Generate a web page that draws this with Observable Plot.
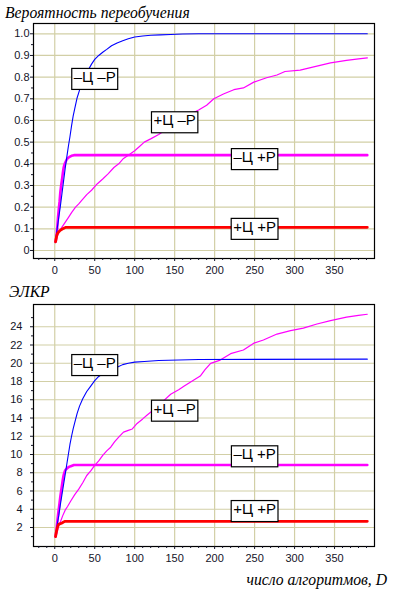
<!DOCTYPE html>
<html><head><meta charset="utf-8">
<script src="https://cdn.jsdelivr.net/npm/d3@7"></script>
<script src="https://cdn.jsdelivr.net/npm/@observablehq/plot@0.6"></script>
<style>
body{margin:0;background:#fff;}
#root{position:relative;width:396px;height:592px;overflow:hidden;background:#fff;}
.t{position:absolute;z-index:2;font-family:"Liberation Serif",serif;font-style:italic;font-size:15.7px;line-height:15px;color:#000;white-space:nowrap;}
.p{position:absolute;left:0;z-index:1;}
</style></head><body>
<div id="root">
 <div class="t" style="left:5px;top:5px">Вероятность переобучения</div>
 <div class="p" id="c1" style="top:18px"></div>
 <div class="t" style="left:9px;top:284px">ЭЛКР</div>
 <div class="p" id="c2" style="top:298px"></div>
 <div class="t" style="right:9px;top:572px">число алгоритмов, D</div>
</div>
<script>
// ---- data ----
const xTickLabels = [0, 50, 100, 150, 200, 250, 300, 350];
const yTopTicks = [0, 0.1, 0.2, 0.3, 0.4, 0.5, 0.6, 0.7, 0.8, 0.9, 1.0];
const yBotTicks = [2, 4, 6, 8, 10, 12, 14, 16, 18, 20, 22, 24];
const seriesNames = ["–Ц –Р", "+Ц –Р", "–Ц +Р", "+Ц +Р"];

// top: probability of overfitting
const blueTopD = [1,3,5,7,9,11,13,15,17,19,21,23,25,28,31,35,40,46,50,55,60,65,71,78,85,92,100,110,120,132,145,160,180,391];
const blueTopV = [0.045,0.10,0.152,0.205,0.262,0.32,0.378,0.43,0.48,0.525,0.575,0.62,0.655,0.705,0.74,0.78,0.82,0.86,0.882,0.90,0.915,0.928,0.945,0.958,0.968,0.977,0.985,0.99,0.993,0.995,0.997,0.999,1.0,1.0];
const magThinTopD = [1,3,6,9,13,17,21,26,30,34,40,46,53,60,67,74,80,86,92,100,106,112,120,130,140,150,160,170,180,190,199,211,224,236,249,265,278,288,307,324,345,365,380,391];
const magThinTopV = [0.04,0.065,0.09,0.108,0.13,0.152,0.175,0.20,0.215,0.232,0.258,0.278,0.307,0.33,0.355,0.383,0.40,0.425,0.44,0.46,0.48,0.50,0.515,0.535,0.56,0.585,0.61,0.63,0.648,0.67,0.70,0.722,0.742,0.75,0.777,0.797,0.81,0.826,0.832,0.847,0.866,0.877,0.884,0.889];
const magThickTopD = [1,2,3,4,5,6,7,8,9,10,11,12,13,15,17,19,21,24,391];
const magThickTopV = [0.04,0.06,0.10,0.15,0.19,0.225,0.27,0.30,0.325,0.355,0.38,0.395,0.405,0.42,0.428,0.433,0.437,0.44,0.44];
const redTopD = [1,2,3,4,5,6,8,10,12,14,391];
const redTopV = [0.04,0.06,0.075,0.082,0.086,0.09,0.096,0.1,0.104,0.107,0.107];
const labelTopD = [50, 150, 250, 250];
const labelTopV = [0.8, 0.6, 0.43, 0.108];

// bottom: ЭЛКР
const blueBotD = [1,3,5,7,9,11,13,15,17,19,21,23,25,28,31,35,40,45,50,55,60,66,72,78,85,92,100,112,130,155,180,391];
const blueBotV = [1.0,2.3,3.3,4.5,5.6,6.7,7.8,8.9,10.0,11.1,12.0,12.8,13.5,14.5,15.3,16.1,16.9,17.5,18.1,18.55,18.85,19.1,19.3,19.55,19.85,20.0,20.12,20.2,20.3,20.36,20.42,20.45];
const magThinBotD = [1,3,5,7,10,13,16,20,25,30,35,40,45,50,55,60,65,70,75,80,86,92,97,103,110,116,125,135,145,155,162,170,182,188,195,207,220,236,249,261,278,295,311,328,345,365,380,391];
const magThinBotV = [1.0,1.5,2.2,2.6,3.3,3.9,4.3,4.9,5.6,6.2,6.9,7.7,8.2,8.8,9.3,9.9,10.4,10.8,11.4,11.9,12.45,12.65,12.8,13.4,13.9,14.35,15.0,15.8,16.6,17.1,17.5,17.95,18.6,19.3,19.99,20.35,21.05,21.45,22.2,22.55,23.2,23.57,23.85,24.3,24.67,25.05,25.25,25.37];
const magThickBotD = [1,2,3,4,5,6,7,8,9,10,11,12,13,15,17,20,24,391];
const magThickBotV = [1.0,1.6,2.5,3.3,4.0,4.7,5.4,6.0,6.6,7.2,7.7,8.0,8.25,8.45,8.6,8.72,8.85,8.85];
const redBotD = [1,2,3,4,5,7,9,11,13,391];
const redBotV = [1.0,1.5,1.9,2.2,2.35,2.42,2.5,2.6,2.68,2.68];
const labelBotD = [50, 150, 250, 250];
const labelBotV = [20, 15, 10, 4];

// ---- helpers ----
const zip = (ds, vs) => ds.map((d, i) => ({d, v: vs[i]}));
const GRID = "#d2cfa6";
const xMinor = d3.range(-20, 400, 10).filter(v => v % 50 !== 0);

function chart(el, opt) {
  const marks = [
    Plot.ruleX(xTickLabels, {stroke: GRID, strokeWidth: 1.2}),
    Plot.ruleY(opt.yTicks, {stroke: GRID, strokeWidth: 1.2}),
    Plot.line(zip(opt.magThick[0], opt.magThick[1]), {x: "d", y: "v", stroke: "#ff00ff", strokeWidth: 2.6}),
    Plot.line(zip(opt.magThin[0], opt.magThin[1]), {x: "d", y: "v", stroke: "#ff00ff", strokeWidth: 1.2}),
    Plot.line(zip(opt.blue[0], opt.blue[1]), {x: "d", y: "v", stroke: "#0000ff", strokeWidth: 1.1}),
    Plot.line(zip(opt.red[0], opt.red[1]), {x: "d", y: "v", stroke: "#ff0000", strokeWidth: 2.8}),
    Plot.frame({stroke: "#000", strokeWidth: 1.2}),
    Plot.axisX({ticks: xTickLabels, tickSize: 3, tickPadding: 5, tickFormat: d => String(d), fontSize: 11, label: null}),
    Plot.axisX({ticks: xMinor, tickSize: 2, tickFormat: () => "", label: null}),
    Plot.axisY({ticks: opt.yTicks, tickSize: 3, tickPadding: opt.yPad, tickFormat: opt.yFmt, fontSize: 11, label: null}),
    Plot.axisY({ticks: opt.yMinor, tickSize: 2, tickFormat: () => "", label: null}),
    Plot.text(seriesNames.map((n, i) => ({n, d: opt.lab[0][i], v: opt.lab[1][i]})),
      {x: "d", y: "v", text: "n", fontSize: 15, fontFamily: "Liberation Sans, Arial, sans-serif", fill: "#000"})
  ];
  const svg = Plot.plot({
    width: 396, height: opt.height,
    marginLeft: 33, marginRight: 22, marginTop: opt.mt, marginBottom: opt.mb,
    x: {domain: [-26.6, 400], label: null},
    y: {domain: opt.yDomain, label: null},
    style: {fontFamily: "Liberation Sans, Arial, sans-serif", fontSize: "11px", color: "#141428", background: "transparent"},
    marks
  });
  document.getElementById(el).appendChild(svg);
  // white boxes with black border behind series labels
  const groups = svg.querySelectorAll('g[aria-label="text"]');
  const g = groups[groups.length - 1];
  if (g) {
    g.querySelectorAll("text").forEach(t => {
      const b = t.getBBox();
      const r = document.createElementNS("http://www.w3.org/2000/svg", "rect");
      r.setAttribute("x", b.x - 2);
      r.setAttribute("y", b.y + 0.5);
      r.setAttribute("width", b.width + 4);
      r.setAttribute("height", b.height + 4);
      r.setAttribute("fill", "#fff");
      r.setAttribute("stroke", "#000");
      r.setAttribute("stroke-width", 1.2);
      if (t.getAttribute("transform")) r.setAttribute("transform", t.getAttribute("transform"));
      g.insertBefore(r, t);
    });
  }
}

chart("c1", {
  height: 262, mt: 5, mb: 22, yDomain: [-0.037, 1.0475],
  yTicks: yTopTicks, yMinor: [0.05,0.15,0.25,0.35,0.45,0.55,0.65,0.75,0.85,0.95],
  yPad: 1, yFmt: v => v === 0 ? "0" : v.toFixed(1),
  blue: [blueTopD, blueTopV], magThin: [magThinTopD, magThinTopV],
  magThick: [magThickTopD, magThickTopV], red: [redTopD, redTopV],
  lab: [labelTopD, labelTopV]
});
chart("c2", {
  height: 270, mt: 6, mb: 22, yDomain: [-0.083, 26.44],
  yTicks: yBotTicks, yMinor: [1,3,5,7,9,11,13,15,17,19,21,23,25],
  yPad: 8, yFmt: v => String(v),
  blue: [blueBotD, blueBotV], magThin: [magThinBotD, magThinBotV],
  magThick: [magThickBotD, magThickBotV], red: [redBotD, redBotV],
  lab: [labelBotD, labelBotV]
});
</script>
</body></html>
